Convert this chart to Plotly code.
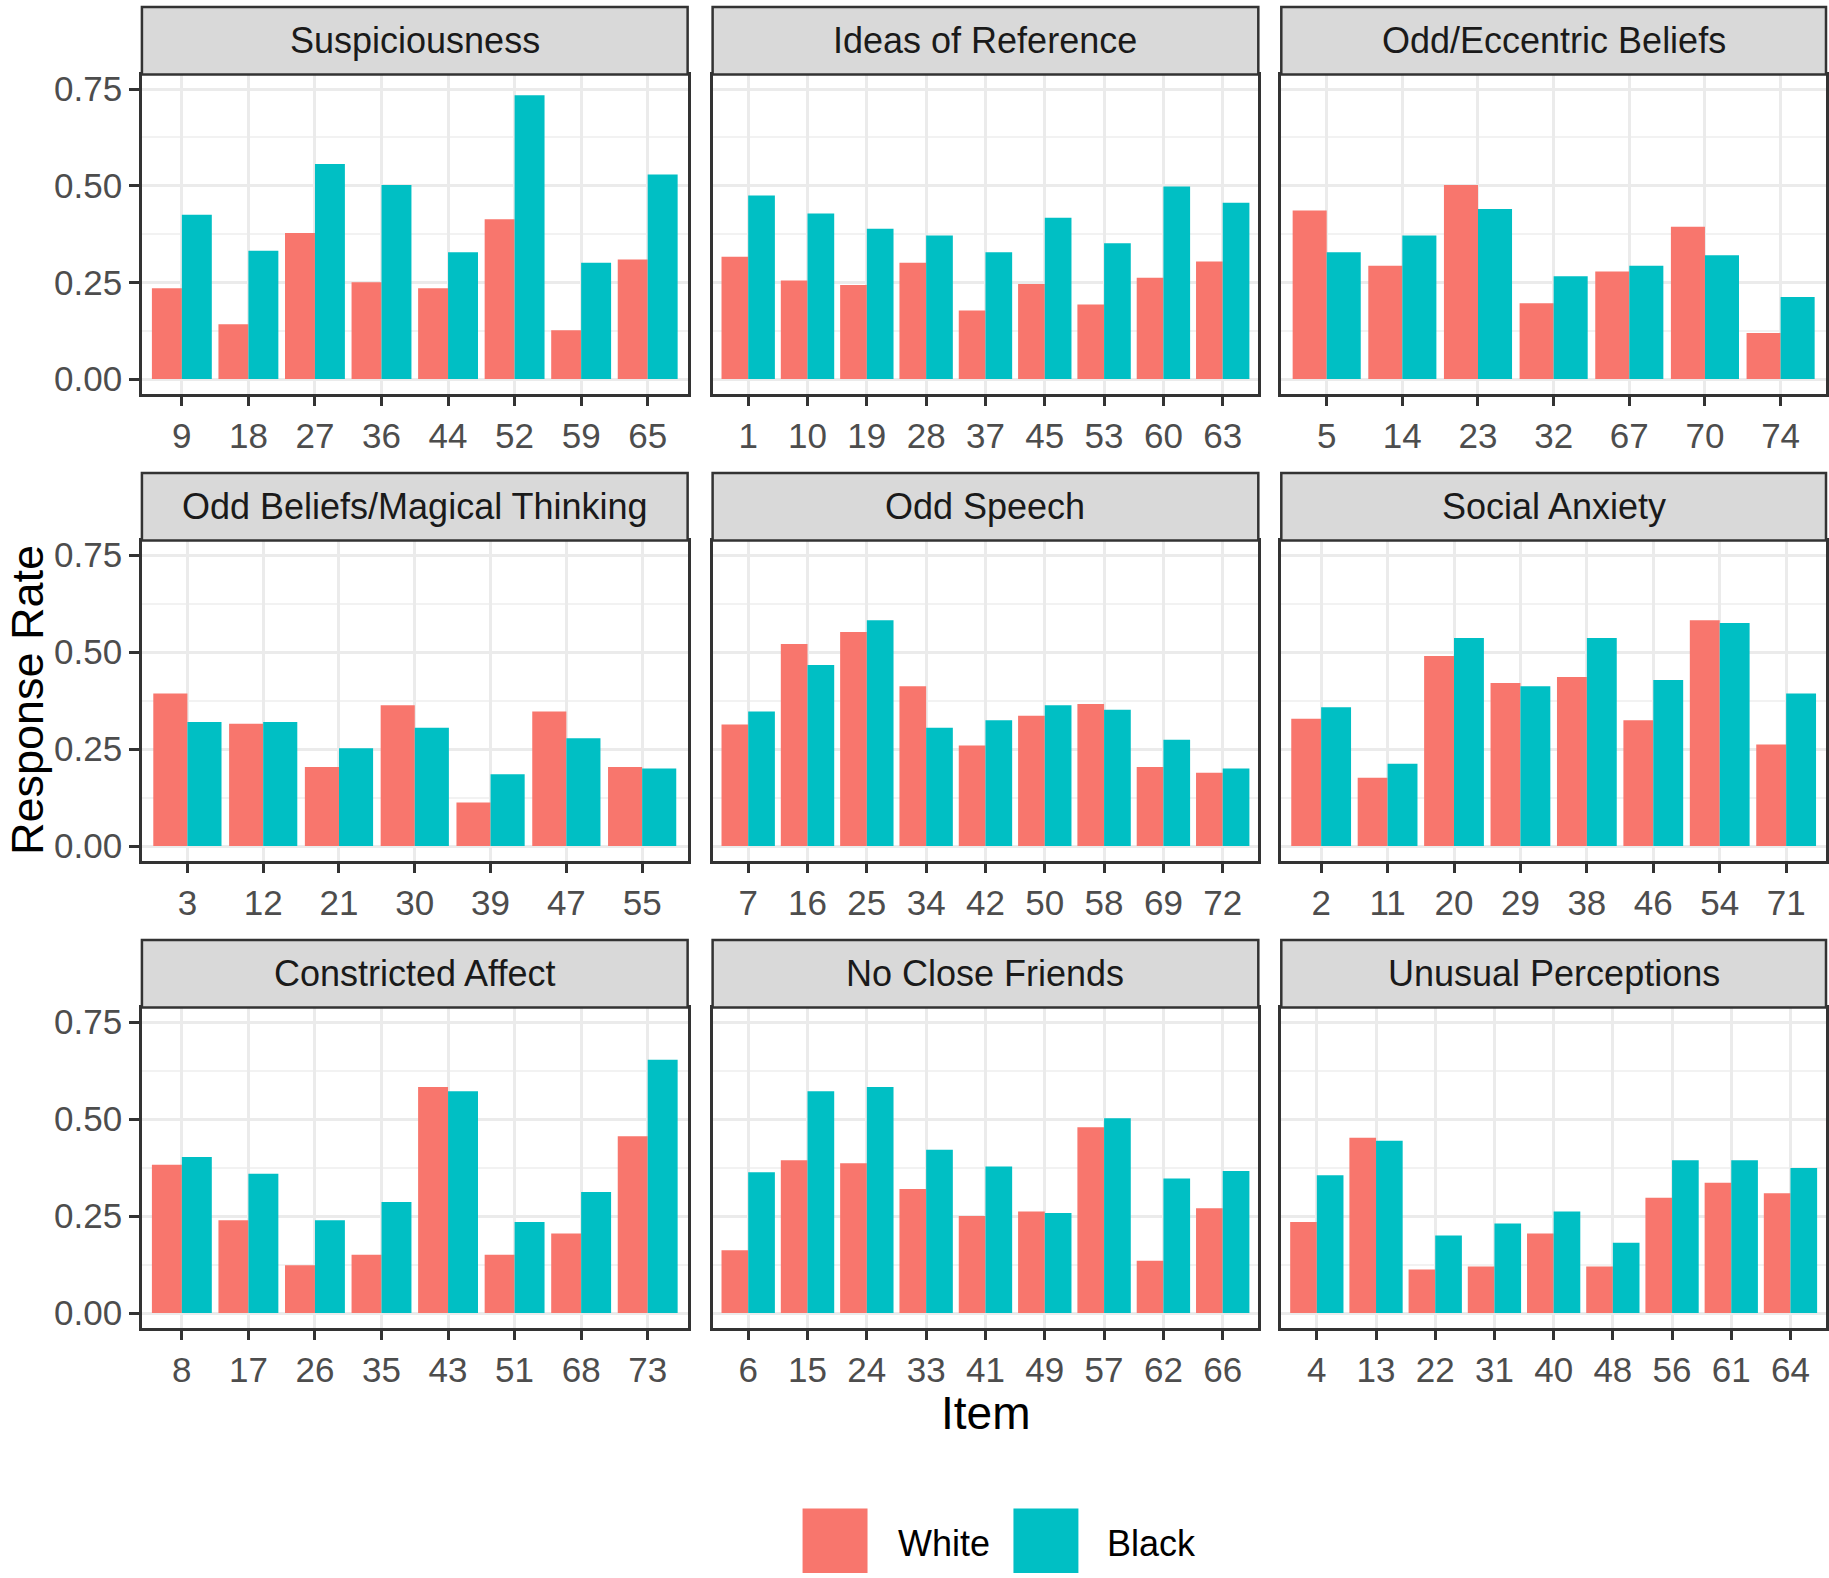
import plotly.graph_objects as go

W, H = 1829, 1578

facets = ["Suspiciousness", "Ideas of Reference", "Odd/Eccentric Beliefs",
          "Odd Beliefs/Magical Thinking", "Odd Speech", "Social Anxiety",
          "Constricted Affect", "No Close Friends", "Unusual Perceptions"]

susp_items = ["9", "18", "27", "36", "44", "52", "59", "65"]
susp_white = [0.235, 0.142, 0.378, 0.250, 0.235, 0.413, 0.126, 0.309]
susp_black = [0.425, 0.332, 0.556, 0.502, 0.328, 0.734, 0.301, 0.529]

ideas_items = ["1", "10", "19", "28", "37", "45", "53", "60", "63"]
ideas_white = [0.316, 0.255, 0.243, 0.301, 0.177, 0.246, 0.193, 0.262, 0.304]
ideas_black = [0.475, 0.428, 0.389, 0.371, 0.328, 0.417, 0.351, 0.498, 0.456]

ecc_items = ["5", "14", "23", "32", "67", "70", "74"]
ecc_white = [0.436, 0.293, 0.502, 0.196, 0.278, 0.394, 0.119]
ecc_black = [0.328, 0.371, 0.440, 0.266, 0.293, 0.320, 0.212]

magic_items = ["3", "12", "21", "30", "39", "47", "55"]
magic_white = [0.393, 0.315, 0.204, 0.363, 0.112, 0.347, 0.204]
magic_black = [0.320, 0.320, 0.252, 0.305, 0.185, 0.278, 0.200]

speech_items = ["7", "16", "25", "34", "42", "50", "58", "69", "72"]
speech_white = [0.313, 0.521, 0.552, 0.412, 0.259, 0.336, 0.366, 0.204, 0.189]
speech_black = [0.347, 0.467, 0.582, 0.305, 0.324, 0.363, 0.351, 0.274, 0.200]

anx_items = ["2", "11", "20", "29", "38", "46", "54", "71"]
anx_white = [0.328, 0.176, 0.490, 0.420, 0.436, 0.324, 0.582, 0.262]
anx_black = [0.358, 0.212, 0.536, 0.412, 0.536, 0.428, 0.575, 0.393]

affect_items = ["8", "17", "26", "35", "43", "51", "68", "73"]
affect_white = [0.382, 0.239, 0.123, 0.150, 0.583, 0.150, 0.205, 0.456]
affect_black = [0.402, 0.359, 0.239, 0.286, 0.572, 0.235, 0.312, 0.653]

friends_items = ["6", "15", "24", "33", "41", "49", "57", "62", "66"]
friends_white = [0.162, 0.394, 0.386, 0.320, 0.250, 0.262, 0.479, 0.135, 0.270]
friends_black = [0.363, 0.572, 0.583, 0.421, 0.378, 0.258, 0.502, 0.347, 0.366]

perc_items = ["4", "13", "22", "31", "40", "48", "56", "61", "64"]
perc_white = [0.235, 0.452, 0.112, 0.120, 0.205, 0.120, 0.297, 0.336, 0.309]
perc_black = [0.355, 0.444, 0.200, 0.231, 0.262, 0.181, 0.394, 0.394, 0.374]

groups = ["White", "Black"]
colors = {"White": "#F8766D", "Black": "#00BFC4"}

y_ticks = [0.0, 0.25, 0.50, 0.75]
y_minor = [0.125, 0.375, 0.625]

panel_data = [
    (susp_items, susp_white, susp_black),
    (ideas_items, ideas_white, ideas_black),
    (ecc_items, ecc_white, ecc_black),
    (magic_items, magic_white, magic_black),
    (speech_items, speech_white, speech_black),
    (anx_items, anx_white, anx_black),
    (affect_items, affect_white, affect_black),
    (friends_items, friends_white, friends_black),
    (perc_items, perc_white, perc_black),
]

# layout geometry in pixels
col_x = [(142, 688), (713, 1259), (1282, 1827)]
row_strip = [(2, 70), (471, 539), (941, 1009)]
row_plot = [(70, 391), (539, 861), (1009, 1331)]

def px(x):
    return x / W

def py(y):
    return 1 - y / H

FONT = "Liberation Sans, Arial, sans-serif"
fig = go.Figure()
shapes = []
annotations = []
layout_axes = {}

for i, (facet, (items, white, black)) in enumerate(zip(facets, panel_data)):
    r, c = divmod(i, 3)
    n = i + 1
    xa = "x" if n == 1 else f"x{n}"
    ya = "y" if n == 1 else f"y{n}"
    for g, vals in zip(groups, [white, black]):
        fig.add_trace(go.Bar(
            x=items, y=vals, name=g, marker_color=colors[g],
            marker_line_width=0, xaxis=xa, yaxis=ya, showlegend=False,
            offsetgroup=g,
        ))
    x0, x1 = col_x[c]
    t, b = row_plot[r]
    xkey = "xaxis" if n == 1 else f"xaxis{n}"
    ykey = "yaxis" if n == 1 else f"yaxis{n}"
    layout_axes[xkey] = dict(
        domain=[px(x0), px(x1)], anchor=ya, type="category",
        categoryorder="array", categoryarray=items,
        range=[-0.6, len(items) - 0.4],
        showgrid=True, gridcolor="#EBEBEB", gridwidth=2.5,
        showline=True, linecolor="#333333", linewidth=2.5, mirror=True,
        ticks="outside", ticklen=10, tickwidth=2.5, tickcolor="#333333",
        tickfont=dict(family=FONT, size=35, color="#4D4D4D"),
        zeroline=False, fixedrange=True,
    )
    layout_axes[ykey] = dict(
        domain=[py(b), py(t)], anchor=xa,
        range=[-0.0375, 0.7875],
        tickvals=y_ticks, ticktext=[f"{v:.2f}" for v in y_ticks],
        showticklabels=(c == 0),
        showgrid=True, gridcolor="#EBEBEB", gridwidth=2.5,
        minor=dict(tickvals=y_minor, showgrid=True, gridcolor="#F2F2F2",
                   gridwidth=1.5, ticklen=0),
        showline=True, linecolor="#333333", linewidth=2.5, mirror=True,
        ticks="outside" if c == 0 else "", ticklen=10, tickwidth=2.5,
        tickcolor="#333333",
        tickfont=dict(family=FONT, size=35, color="#4D4D4D"),
        zeroline=False, fixedrange=True,
    )
    st, sb = row_strip[r]
    shapes.append(dict(type="rect", xref="paper", yref="paper",
                       x0=px(x0), x1=px(x1), y0=py(sb), y1=py(st),
                       fillcolor="#D9D9D9", line=dict(color="#333333", width=2.5),
                       layer="above"))
    annotations.append(dict(text=facet, xref="paper", yref="paper",
                            x=px((x0 + x1) / 2), y=py((st + sb) / 2),
                            xanchor="center", yanchor="middle", showarrow=False,
                            font=dict(family=FONT, size=36, color="#1A1A1A")))

# axis titles
annotations.append(dict(text="Item", xref="paper", yref="paper",
                        x=px(986), y=py(1417), xanchor="center", yanchor="middle",
                        showarrow=False, font=dict(family=FONT, size=46, color="black")))
annotations.append(dict(text="Response Rate", xref="paper", yref="paper",
                        x=0, y=py(700), xanchor="left", yanchor="middle",
                        textangle=-90, showarrow=False,
                        font=dict(family=FONT, size=45, color="black")))

# legend (manual)
legend_keys = [(803, 868, 896), (1014, 1079, 1106)]
for g, (kx0, kx1, tx) in zip(groups, legend_keys):
    shapes.append(dict(type="rect", xref="paper", yref="paper",
                       x0=px(kx0), x1=px(kx1), y0=py(1578), y1=py(1513),
                       fillcolor=colors[g], line=dict(width=0)))
    annotations.append(dict(text=g, xref="paper", yref="paper",
                            x=px(tx), y=py(1548), xanchor="left", yanchor="middle",
                            showarrow=False,
                            font=dict(family=FONT, size=36, color="black")))

fig.update_layout(
    width=W, height=H, margin=dict(l=0, r=0, t=0, b=0),
    paper_bgcolor="white", plot_bgcolor="white",
    barmode="group", bargap=0.1, bargroupgap=0,
    shapes=shapes, annotations=annotations, showlegend=False,
    font=dict(family=FONT),
    **layout_axes,
)

fig.write_html(
    "out.html",
    config={"displayModeBar": False},
    post_script="document.body.style.margin='0';document.body.style.overflow='hidden';",
)
